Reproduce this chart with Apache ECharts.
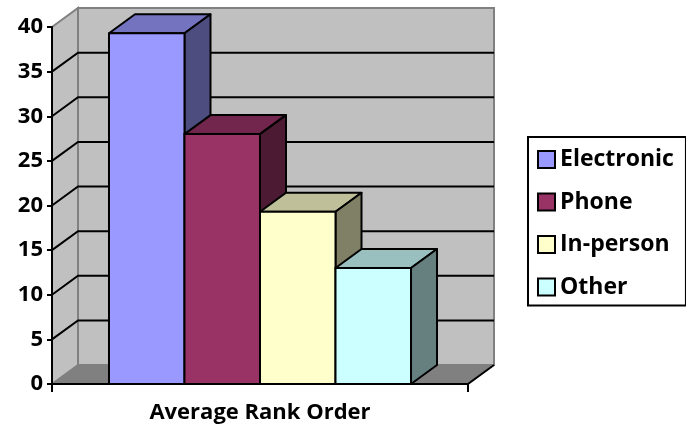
<!DOCTYPE html>
<html>
<head>
<meta charset="utf-8">
<script src="https://cdn.jsdelivr.net/npm/echarts@6/dist/echarts.min.js"></script>
<style>
html, body { margin: 0; padding: 0; background: #fff; }
#main { width: 686px; height: 430px; }
</style>
</head>
<body>
<div id="main"></div>
<script>
// data
const categories = ['Average Rank Order'];
const seriesNames = ['Electronic', 'Phone', 'In-person', 'Other'];
const seriesValues = [39.3, 28, 19.3, 13];
const yTicks = [0, 5, 10, 15, 20, 25, 30, 35, 40];

const faceColors = ['#9999FF', '#993366', '#FFFFCC', '#CCFFFF'];
const topColors = ['#7373BF', '#73264D', '#BFBF99', '#99BFBF'];
const sideColors = ['#4D4D80', '#4D1A33', '#808066', '#668080'];

// fake 3d depth in pixels
const DX = 26, DY = -19;
const BAR_FRAC = 0.1815;
const FONT = '"Open Sans", sans-serif';

function renderWalls(params, api) {
    const c = api.coord([0, 0]);
    const band = api.size([1, 0])[0];
    const x0 = c[0] - band / 2, x1 = c[0] + band / 2;
    const yb = api.coord([0, yTicks[0]])[1];
    const yt = api.coord([0, yTicks[yTicks.length - 1]])[1];
    const kids = [];
    kids.push({
        type: 'rect',
        shape: { x: x0 + DX, y: yt + DY, width: x1 - x0, height: yb - yt },
        style: { fill: '#C0C0C0', stroke: '#808080', lineWidth: 2 }
    });
    kids.push({
        type: 'polygon',
        shape: { points: [[x0, yt], [x0 + DX, yt + DY], [x0 + DX, yb + DY], [x0, yb]] },
        style: { fill: '#C0C0C0', stroke: '#808080', lineWidth: 2 }
    });
    kids.push({
        type: 'polygon',
        shape: { points: [[x0, yb], [x0 + DX, yb + DY], [x1 + DX, yb + DY], [x1, yb]] },
        style: { fill: '#808080', stroke: '#808080', lineWidth: 1 }
    });
    yTicks.slice(1, -1).forEach(function (t) {
        const y = api.coord([0, t])[1];
        kids.push({
            type: 'polyline',
            shape: { points: [[x0, y], [x0 + DX, y + DY], [x1 + DX, y + DY]] },
            style: { fill: null, stroke: '#000', lineWidth: 2 }
        });
    });
    // right edge of the floor and end tick
    kids.push({
        type: 'polyline',
        shape: { points: [[x1, yb + 8], [x1, yb], [x1 + DX, yb + DY]] },
        style: { fill: null, stroke: '#000', lineWidth: 2 }
    });
    kids.push({
        type: 'line',
        shape: { x1: x0, y1: yb, x2: x0, y2: yb + 8 },
        style: { stroke: '#000', lineWidth: 2 }
    });
    return { type: 'group', children: kids };
}

function renderBar(params, api) {
    const i = api.value(2);
    const c = api.coord([api.value(0), api.value(1)]);
    const bottom = api.coord([api.value(0), 0])[1];
    const band = api.size([1, 0])[0];
    const w = band * BAR_FRAC;
    const left = c[0] - 2 * w + i * w;
    const top = c[1];
    const right = left + w;
    const line = { stroke: '#000', lineWidth: 2, lineJoin: 'round' };
    return {
        type: 'group',
        children: [
            {
                type: 'polygon',
                shape: { points: [[left, top], [left + DX, top + DY], [right + DX, top + DY], [right, top]] },
                style: Object.assign({ fill: topColors[i] }, line)
            },
            {
                type: 'polygon',
                shape: { points: [[right, top], [right + DX, top + DY], [right + DX, bottom + DY], [right, bottom]] },
                style: Object.assign({ fill: sideColors[i] }, line)
            },
            {
                type: 'rect',
                shape: { x: left, y: top, width: w, height: bottom - top },
                style: Object.assign({ fill: faceColors[i] }, line)
            }
        ]
    };
}

const series = [{
    type: 'custom',
    name: 'walls',
    silent: true,
    z: 1,
    renderItem: renderWalls,
    encode: { x: 0, y: 1 },
    data: [[0, 0]]
}];
seriesNames.forEach(function (name, i) {
    series.push({
        type: 'custom',
        name: name,
        z: 2,
        renderItem: renderBar,
        itemStyle: { color: faceColors[i] },
        encode: { x: 0, y: 1 },
        data: [[0, seriesValues[i], i]]
    });
});

const chart = echarts.init(document.getElementById('main'));
chart.setOption({
    animation: false,
    backgroundColor: '#fff',
    grid: { left: 52, right: 218, top: 27, bottom: 46, outerBoundsMode: 'none' },
    xAxis: {
        type: 'category',
        data: categories,
        z: 10,
        axisLine: { show: true, lineStyle: { color: '#000', width: 2 } },
        axisTick: { show: false },
        axisLabel: { margin: 18, color: '#000', fontWeight: 'bold', fontSize: 22, fontFamily: FONT }
    },
    yAxis: {
        type: 'value',
        min: 0,
        max: 40,
        interval: 5,
        z: 10,
        axisLine: { show: true, lineStyle: { color: '#000', width: 2 } },
        axisTick: { show: true, length: 5, lineStyle: { color: '#000', width: 2 } },
        axisLabel: { margin: 9, color: '#000', fontWeight: 'bold', fontSize: 22, fontFamily: FONT },
        splitLine: { show: false }
    },
    legend: {
        orient: 'vertical',
        left: 528,
        top: 137,
        data: seriesNames,
        icon: 'rect',
        itemWidth: 17,
        itemHeight: 17,
        itemGap: 19.5,
        padding: [11, 12, 7, 9],
        borderColor: '#000',
        borderWidth: 2,
        itemStyle: { borderColor: '#000', borderWidth: 2 },
        textStyle: { color: '#000', fontWeight: 'bold', fontSize: 23, lineHeight: 23, fontFamily: FONT }
    },
    series: series
});
</script>
</body>
</html>
